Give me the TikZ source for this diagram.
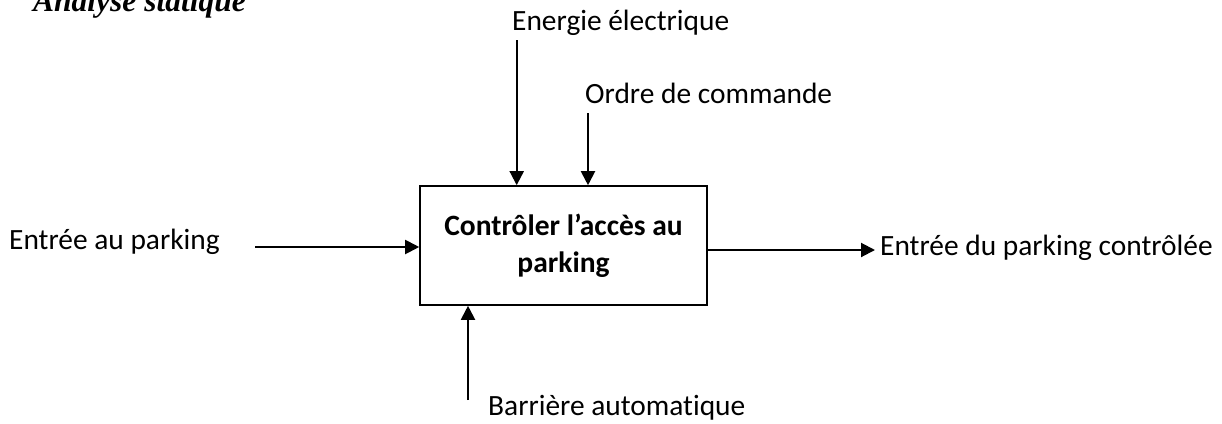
\documentclass[tikz,border=0pt]{standalone}
\usepackage{fontspec}
\setmainfont{Carlito}[Ligatures={NoCommon}]
\newfontfamily\titlefont{Liberation Serif}
\usetikzlibrary{arrows.meta}
\tikzset{
  lbl/.style={anchor=base west, inner sep=0pt, font=\fontsize{29.4}{34}\selectfont},
  flow/.style={line width=2pt, -{Triangle[length=14pt,width=14pt]}},
  fbox/.style={draw, line width=1.6pt, inner sep=0pt, minimum width=287pt, minimum height=119pt,
     align=center, font=\fontsize{29.5}{37}\bfseries\selectfont}
}
\begin{document}
\begin{tikzpicture}[x=1pt,y=-1pt]
\useasboundingbox (0,0) rectangle (1222,423);
\node[anchor=base west, inner sep=0pt, font=\titlefont\itshape\bfseries\fontsize{31.5}{34}\selectfont] (title) at (33,11) {Analyse statique};
\node[fbox] (box) at (563.5,245.5) {Contrôler l’accès au\\parking};
\node[lbl] (energie) at (512,30) {Energie électrique};
\node[lbl] (ordre) at (585,103) {Ordre de commande};
\node[lbl] (entree) at (9,249) {Entrée au parking};
\node[lbl] (sortie) at (880,255) {Entrée du parking contrôlée};
\node[lbl] (barriere) at (488,415) {Barrière automatique};
\coordinate (e0) at (516.7,40);
\coordinate (o0) at (588,113);
\coordinate (i0) at (255,247);
\coordinate (s1) at (875,250);
\coordinate (b0) at (468,400);
\draw[flow] (e0) -- (e0 |- box.north);
\draw[flow] (o0) -- (o0 |- box.north);
\draw[flow] (i0) -- (i0 -| box.west);
\draw[flow] (s1 -| box.east) -- (s1);
\draw[flow] (b0) -- (b0 |- box.south);
\end{tikzpicture}
\end{document}
